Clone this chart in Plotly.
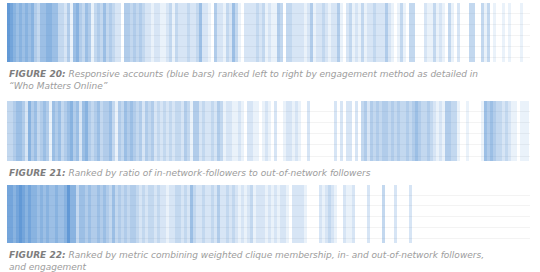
import plotly.graph_objects as go

# Intensity (0 = none, 9 = darkest) of ranked accounts, left to right, per figure
fig20_intensity = [
    8, 7, 6, 5, 6, 5, 6, 5, 6, 4, 3, 5, 5, 6, 6, 5, 5, 3, 3, 2, 4, 1, 5, 6, 4, 3, 5, 4, 1, 3,
    4, 3, 5, 3, 4, 3, 2, 2, 0, 4, 4, 3, 4, 3, 4, 3, 2, 2, 1, 2, 2, 1, 1, 2, 3, 1, 3, 2,
    2, 2, 3, 2, 2, 3, 5, 2, 2, 1, 0, 4, 2, 2, 1, 3, 2, 5, 3, 1, 0, 2, 2, 2, 2, 3, 2, 3,
    1, 2, 1, 1, 4, 3, 0, 3, 3, 2, 2, 2, 2, 1, 2, 4, 1, 2, 2, 3, 2, 1, 2, 2, 4, 1, 0, 2,
    3, 1, 2, 1,
    3, 1, 2, 2, 3, 2, 2, 2, 4, 2, 1, 0, 1, 3, 1, 0, 3, 3, 0, 0, 0, 2, 1, 1, 3, 1, 2, 1,
    0, 3, 1, 0, 2, 0, 0, 0, 3, 3, 0, 0, 3, 1, 3, 0, 1, 0, 0, 1, 0, 1, 0, 0, 0, 1, 0,
]
fig21_intensity = [
    3, 3, 4, 5, 5, 4, 2, 6, 4, 5, 3, 4, 5, 4, 1, 5, 4, 5, 3, 4, 5, 6, 4, 5, 2, 5, 6, 4,
    3, 4, 5, 3, 4, 4, 5, 3, 1, 4, 3, 5, 4, 5, 4, 3, 4, 2, 4, 3, 4, 2, 3, 2, 3, 2, 3, 2,
    3, 3,
    2, 4, 3, 1, 4, 4, 2, 3, 2, 2, 3, 2, 4, 3, 1, 2, 2, 1, 1, 2, 1, 0, 2, 2, 1, 1, 0, 1,
    2, 1, 0, 2, 0, 0, 1, 2, 2, 1, 2, 1, 0, 0, 2, 0, 0, 0, 0, 0, 0, 0, 0, 2, 0, 2, 0, 2,
    2, 0, 2, 0,
    3, 4, 2, 4, 3, 4, 3, 4, 4, 3, 4, 3, 4, 3, 3, 4, 3, 4, 5, 4, 3, 3, 4, 3, 2, 1, 2, 1,
    4, 4, 3, 3, 1, 0, 0, 1, 0, 0, 0, 0, 1, 5, 4, 5, 4, 3, 3, 2, 3, 2, 1, 1, 0, 1, 1, 1,
]
fig22_intensity = [
    7, 7, 6, 7, 8, 7, 6, 7, 6, 6, 5, 6, 5, 6, 5, 5, 6, 5, 5, 6, 8, 6, 6, 3, 5, 5, 4, 5,
    4, 4, 5, 4, 5, 4, 3, 5, 3, 4, 3, 4, 3, 4, 4, 3, 2, 3, 2, 3, 3, 2, 3, 2, 2, 1, 2, 2,
    3, 3,
    2, 3, 2, 5, 3, 2, 2, 3, 2, 2, 3, 2, 4, 2, 2, 3, 2, 3, 2, 1, 2, 1, 2, 3, 1, 2, 2, 2,
    1, 2, 1, 2, 1, 2, 2, 1, 0, 2, 2, 2, 2, 1, 0, 0, 0, 0, 2, 1, 2, 3, 2, 1, 0, 0, 2, 1,
    1, 2, 0, 0,
    0, 0, 2, 0, 0, 0, 0, 3, 0, 0, 0, 2, 0, 0, 0, 0, 2, 0, 0, 0, 0, 0, 0, 0, 0, 0, 0, 0,
    0, 0, 0, 0, 0, 0, 0, 0, 0, 0, 0, 0, 0, 0, 0, 0, 0, 0, 0, 0, 0, 0, 0, 0, 0, 0,
]

captions = [
    ("FIGURE 20:", "Responsive accounts (blue bars) ranked left to right by engagement method as detailed in<br>\u201cWho Matters Online\u201d"),
    ("FIGURE 21:", "Ranked by ratio of in-network-followers to out-of-network followers"),
    ("FIGURE 22:", "Ranked by metric combining weighted clique membership, in- and out-of-network followers,<br>and engagement"),
]

W, H = 540, 272
BLUE = (68, 134, 206)
panels = [(3, 62), (101, 161), (185, 243)]  # top/bottom in px
caption_y = [80.5, 173, 260.5]
x_left, x_right = 7, 530
bin_px = 3

fig = go.Figure()
series = [fig20_intensity, fig21_intensity, fig22_intensity]
for k, vals in enumerate(series):
    sfx = "" if k == 0 else str(k + 1)
    colors = [f"rgba({BLUE[0]},{BLUE[1]},{BLUE[2]},{min(1, v / 9.5):.2f})" for v in vals]
    fig.add_trace(go.Bar(
        x=[i + 0.5 for i in range(len(vals))],
        y=[5.4] * len(vals),
        base=-0.45,
        width=1.0,
        marker=dict(color=colors, line=dict(width=0)),
        xaxis="x" + sfx, yaxis="y" + sfx,
        hoverinfo="skip", showlegend=False,
    ))
    top, bot = panels[k]
    fig.layout["xaxis" + sfx] = dict(
        domain=[x_left / W, x_right / W], range=[0, (x_right - x_left) / bin_px],
        showgrid=False, zeroline=False, showticklabels=False, ticks="", fixedrange=True,
        anchor="y" + sfx,
    )
    fig.layout["yaxis" + sfx] = dict(
        domain=[1 - bot / H, 1 - top / H], range=[-0.45, 4.95],
        showgrid=True, gridcolor="#f3f3f3", gridwidth=1, dtick=1, tick0=0,
        zeroline=False, showticklabels=False, ticks="", fixedrange=True,
        anchor="x" + sfx,
    )
    head, body = captions[k]
    fig.add_annotation(
        xref="paper", yref="paper", x=x_left / W, y=1 - caption_y[k] / H,
        xanchor="left", yanchor="middle", align="left", showarrow=False,
        text=f"<b><i><span style='color:#7d7d7d'>{head}</span></i></b> <i>{body}</i>",
        font=dict(family="DejaVu Sans", size=9.0, color="#9c9c9c"),
    )

fig.update_layout(
    width=W, height=H, margin=dict(l=0, r=0, t=0, b=0),
    paper_bgcolor="white", plot_bgcolor="white",
    barmode="overlay", bargap=0,
)
fig.write_html("out.html")
